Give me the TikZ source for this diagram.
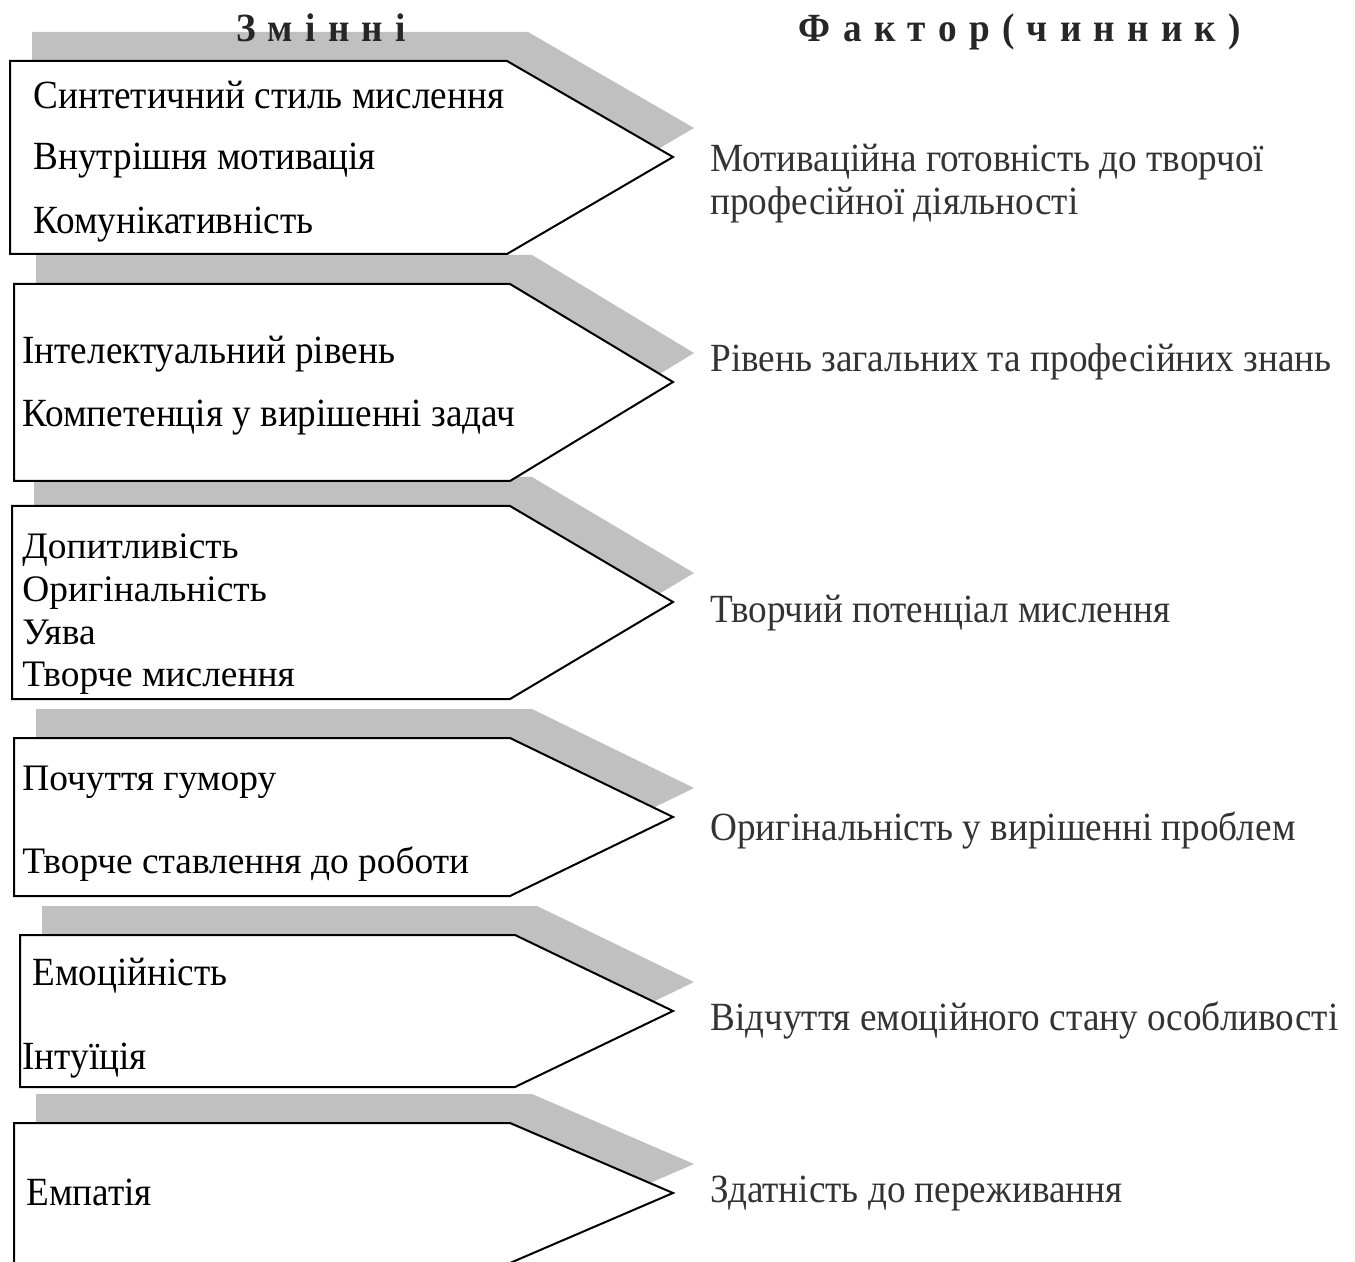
\documentclass[tikz,border=0pt]{standalone}
\usepackage{fontspec}
\usepackage{graphicx}
\setmainfont{Liberation Serif}
\definecolor{ShadowGray}{HTML}{C0C0C0}
\definecolor{FactorGray}{HTML}{333333}
\newcommand{\TextSize}{\fontsize{20}{23}\selectfont}
\newcommand{\WideSize}{\fontsize{18.7}{22}\selectfont}
\newcommand{\Narrow}[1]{\scalebox{0.93}[1]{#1}}
\newcommand{\Spaced}[1]{\scalebox{0.93}[1]{\spaceskip=0.33em\relax #1}}

\begin{document}
\begin{tikzpicture}[x=0.5pt,y=-0.5pt,
        shadowband/.style={fill=ShadowGray,draw=none},
        varbox/.style={fill=white,draw=black,line width=1pt,line join=miter},
        vartext/.style={anchor=base west,inner sep=0pt,font=\TextSize},
        widetext/.style={anchor=base west,inner sep=0pt,font=\WideSize},
        factext/.style={anchor=base west,inner sep=0pt,text=FactorGray,font=\TextSize},
        headtext/.style={anchor=base,inner sep=0pt,text=black!85,font=\TextSize\bfseries}]
                \useasboundingbox (0,0) rectangle (1355,1262);
                \clip (0,0) rectangle (1355,1262);
                % grey bands behind the boxes
                \fill[shadowband] (32,32) -- (528,32) -- (694,128) -- (528,225) -- (32,225) -- cycle;
                \fill[shadowband] (36,255) -- (532,255) -- (694,353) -- (532,452) -- (36,452) -- cycle;
                \fill[shadowband] (34,477) -- (532,477) -- (694,573) -- (532,670) -- (34,670) -- cycle;
                \fill[shadowband] (36,709) -- (532,709) -- (694,788) -- (532,867) -- (36,867) -- cycle;
                \fill[shadowband] (42,906) -- (537,906) -- (694,982) -- (537,1058) -- (42,1058) -- cycle;
                \fill[shadowband] (36,1094) -- (532,1094) -- (694,1164) -- (532,1234) -- (36,1234) -- cycle;
                % headings
                \node[headtext] (hdrVar) at (321,42) {\Spaced{З м і н н і}};
                \node[headtext] (hdrFac) at (1020,42) {\Spaced{Ф а к т о р ( ч и н н и к )}};
                % boxes
                \draw[varbox] (10,61) -- (507,61) -- (673,157) -- (507,254) -- (10,254) -- cycle;
                \draw[varbox] (14,284) -- (510,284) -- (673,382) -- (510,481) -- (14,481) -- cycle;
                \draw[varbox] (12,506) -- (510,506) -- (673,602) -- (510,699) -- (12,699) -- cycle;
                \draw[varbox] (14,738) -- (510,738) -- (673,817) -- (510,896) -- (14,896) -- cycle;
                \draw[varbox] (20,935) -- (515,935) -- (673,1011) -- (515,1087) -- (20,1087) -- cycle;
                \draw[varbox] (14,1123) -- (510,1123) -- (673,1193) -- (510,1263) -- (14,1263) -- cycle;
                % variables
                \node[vartext] (var1a) at (33,109) {\Narrow{Синтетичний стиль мислення}};
                \node[vartext] (var1b) at (33,170) {\Narrow{Внутрішня мотивація}};
                \node[vartext] (var1c) at (33,234) {\Narrow{Комунікативність}};
                \node[vartext] (var2a) at (22,364) {\Narrow{Інтелектуальний рівень}};
                \node[vartext] (var2b) at (22,427) {\Narrow{Компетенція у вирішенні задач}};
                \node[widetext] (var3a) at (22,559) {Допитливість};
                \node[widetext] (var3b) at (22,601) {Оригінальність};
                \node[widetext] (var3c) at (22,644) {Уява};
                \node[widetext] (var3d) at (22,686) {Творче мислення};
                \node[widetext] (var4a) at (22,790) {Почуття гумору};
                \node[widetext] (var4b) at (22,873) {Творче ставлення до роботи};
                \node[vartext] (var5a) at (32,985) {\Narrow{Емоційність}};
                \node[vartext] (var5b) at (22,1069) {\Narrow{Інтуїція}};
                \node[vartext] (var6a) at (26,1205) {\Narrow{Емпатія}};
                % factors
                \node[factext] (fac1a) at (710,172) {\Narrow{Мотиваційна готовність до творчої}};
                \node[factext] (fac1b) at (710,215) {\Narrow{професійної діяльності}};
                \node[factext] (fac2) at (710,372) {\Narrow{Рівень загальних та професійних знань}};
                \node[factext] (fac3) at (710,622) {\Narrow{Творчий потенціал мислення}};
                \node[factext] (fac4) at (710,840) {\Narrow{Оригінальність у вирішенні проблем}};
                \node[factext] (fac5) at (710,1030) {\Narrow{Відчуття емоційного стану особливості}};
                \node[factext] (fac6) at (710,1202) {\Narrow{Здатність до переживання}};
        \end{tikzpicture}
\end{document}
